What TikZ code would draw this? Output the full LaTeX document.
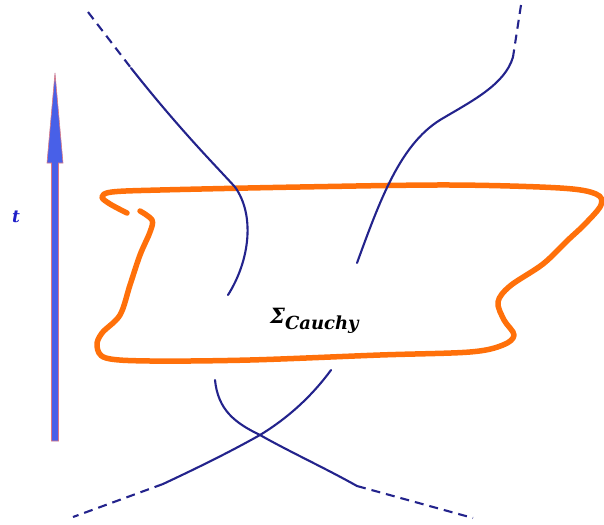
\documentclass[tikz,border=0pt]{standalone}
\usepackage{fontspec}
\newfontfamily\labelfont{DejaVu Serif}
\usepackage{tikz}
\usetikzlibrary{calc}
\definecolor{LoopOrange}{RGB}{255,112,10}
\definecolor{LineNavy}{RGB}{35,35,140}
\definecolor{ArrowBlue}{RGB}{72,96,232}
\definecolor{ArrowEdge}{RGB}{220,120,130}
\definecolor{LabelBlue}{RGB}{30,30,200}
\tikzset{
  worldline/.style={draw=LineNavy,line width=2.1pt,line cap=round},
  farline/.style={draw=LineNavy,line width=2.1pt,dash pattern=on 9pt off 6pt},
  cauchy/.style={draw=LoopOrange,line width=5.5pt,line cap=round,line join=round},
  timearrow/.style={draw=ArrowEdge,line width=0.6pt,fill=ArrowBlue},
  lbl/.style={inner sep=0pt,font=\labelfont\bfseries\itshape},
}

\begin{document}
\begin{tikzpicture}[x=1pt,y=-1pt]
        \useasboundingbox (0,0) rectangle (604,524);
        % time arrow
        \coordinate (tbase) at (55,441);
        \coordinate (ttip) at (55,73);
        \draw[timearrow] ($(tbase)+(-3.5,0)$) -- ++(0,-278) -- ++(-4.5,0)
          -- (ttip) -- ($(tbase)+(8,-278)$) -- ++(-4.5,0) -- ($(tbase)+(3.5,0)$) -- cycle;
        \node[lbl,text=LabelBlue,font=\labelfont\bfseries\itshape\fontsize{17}{17}\selectfont] (tlabel) at (16,217) {t};
        % Cauchy surface
        \draw[cauchy] plot[smooth,tension=0.55] coordinates {
          (127,213) (110,204) (102,197) (112,192) (160,190) (300,187) (450,185)
          (560,188) (596,194) (601,205) (585,224) (568,240) (543,264) (510,286)
          (498,302) (504,320) (514,335) (503,345) (470,352) (380,355) (250,360)
          (150,361) (106,358) (97,346) (102,333) (120,315) (130,285) (140,255)
          (150,232) (152,220) (140,211)};
        \node[lbl,anchor=west] (sigma) at (270,321)
          {\fontsize{21}{21}\selectfont Σ\raisebox{-6pt}{\fontsize{18}{18}\selectfont Cauchy}};
        % worldlines
        \coordinate (a0) at (88,12);   \coordinate (a1) at (131,68);
        \coordinate (b0) at (521,5);   \coordinate (b1) at (513,57);
        \coordinate (c1) at (357,486); \coordinate (c0) at (473,518);
        \coordinate (d1) at (163,484); \coordinate (d0) at (73,517);
        \coordinate (x) at (260,435);
        \draw[farline] (a0) -- (a1);
        \draw[farline] (b0) -- (b1);
        \draw[farline] (c1) -- (c0);
        \draw[farline] (d1) -- (d0);
        \draw[worldline] (a1) .. controls (180,130) and (215,165) .. (235,187)
          .. controls (255,215) and (250,260) .. (228,295);
        \draw[worldline] (b1) .. controls (505,85) and (470,102) .. (440,120)
          .. controls (400,145) and (380,200) .. (357,263);
        \draw[worldline] (215,380) .. controls (218,410) and (235,423) .. (x)
          .. controls (290,452) and (325,468) .. (c1);
        \draw[worldline] (331,370) .. controls (312,396) and (288,418) .. (x)
          .. controls (228,453) and (195,469) .. (d1);
      \end{tikzpicture}
\end{document}
